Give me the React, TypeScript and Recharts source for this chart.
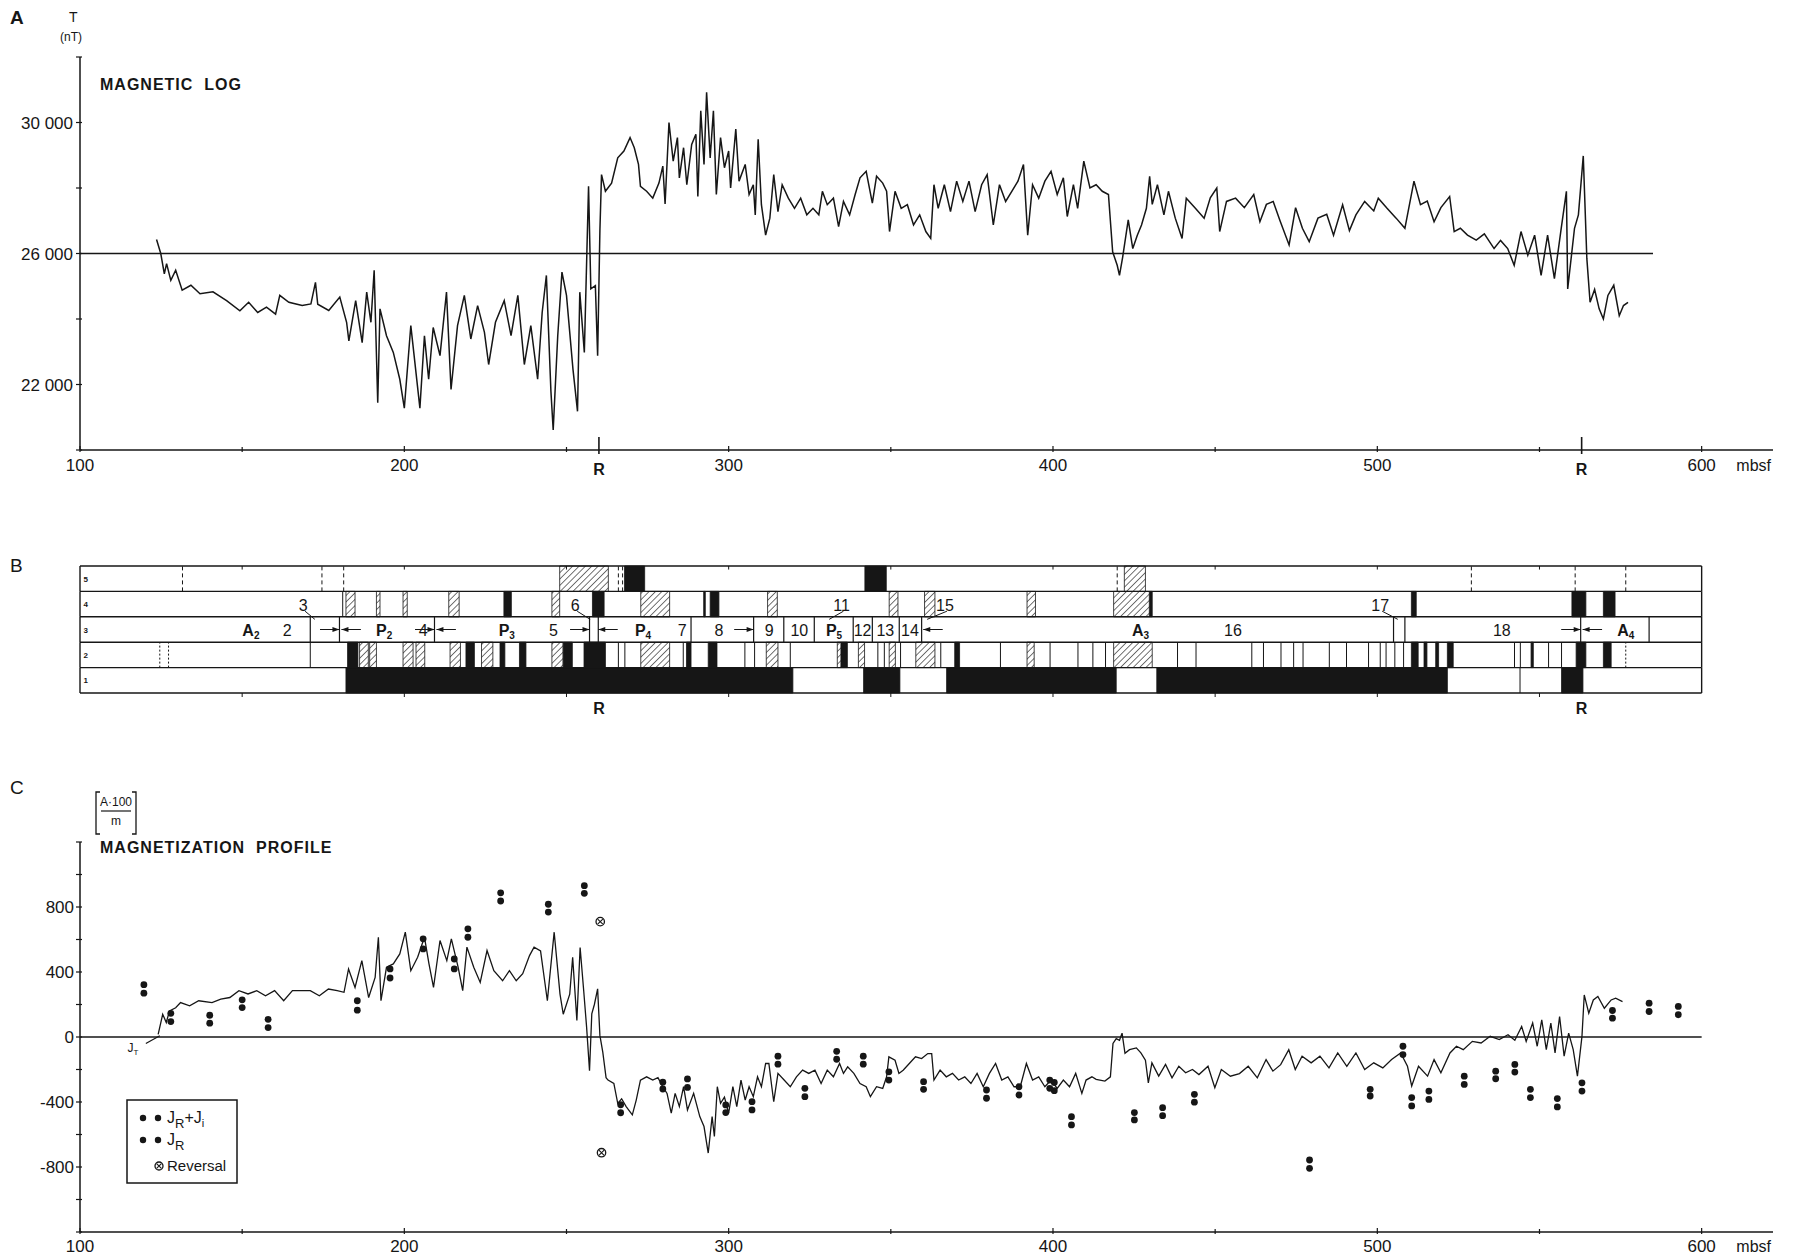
import React from 'react'
import {
  ComposedChart,
  Line,
  Scatter,
  XAxis,
  YAxis,
  ReferenceLine,
  ReferenceArea,
} from 'recharts'

const INK = '#161616'
const FONT = "'Liberation Sans', Arial, sans-serif"
const CHART_W = 1797
const DEPTH_DOMAIN: [number, number] = [100, 622]
const HATCH = 'url(#bhatch)'
const PLOT_MARGIN = { left: 20, right: 24 }

// ---------- A: magnetic log (depth mbsf, total field nT) ----------
const magLog: [number, number][] = [
  [123.6, 26430], [124.9, 26000], [126, 25380], [126.7, 25690], [128, 25180], [129.5, 25490],
  [131.5, 24880], [134.2, 25030], [137, 24770], [141, 24830], [145.2, 24560], [149.3, 24250],
  [152, 24510], [154.8, 24200], [157.5, 24360], [160.3, 24150], [161.6, 24720], [164.4, 24510],
  [168.5, 24410], [171.2, 24460], [172.6, 25120], [173.3, 24450], [176.7, 24260], [180.1, 24670],
  [182.2, 23900], [182.9, 23330], [185, 24560], [187, 23280], [188.4, 24820], [189.7, 23900],
  [190.7, 25490], [191.8, 21440], [192.5, 24310], [194.5, 23490], [196.6, 22980], [198.6, 22160],
  [200, 21280], [202, 23800], [204.8, 21280], [206.2, 23490], [207.5, 22160], [208.9, 23740],
  [211, 22880], [213, 24820], [214.4, 21850], [216.4, 23800], [218.5, 24720], [220.5, 23390],
  [222.6, 24410], [224.7, 23590], [226, 22610], [228.1, 23900], [230.8, 24560], [232.9, 23490],
  [235, 24720], [237, 22610], [239, 23800], [241.1, 22160], [242.5, 24200], [243.8, 25330],
  [245.2, 21790], [245.9, 20610], [247.3, 23490], [248.6, 25430], [250, 24720], [252, 22460],
  [253.4, 21180], [254.1, 24820], [255.5, 22980], [256.8, 28050], [257.5, 24920], [258.9, 25020],
  [259.6, 22880], [260.3, 26700], [260.8, 28410], [262, 27900], [263.9, 28150], [265.8, 28920],
  [267.7, 29130], [269.6, 29540], [270.9, 29230], [272.2, 28720], [272.8, 28050], [274.7, 27900],
  [276.6, 27690], [278.5, 28150], [279.7, 28670], [280.4, 27510], [281.6, 30000], [282.9, 28820],
  [284.2, 29540], [284.8, 28310], [286.1, 29230], [287.1, 28100], [288.6, 29330], [289.9, 29640],
  [290.5, 27740], [291.4, 30360], [292.4, 28720], [293.2, 30920], [294.3, 28920], [295.3, 30360],
  [296.2, 27800], [297.5, 29540], [298.7, 28620], [300, 29130], [300.6, 28000], [302.2, 29800],
  [303.2, 28210], [305.1, 28720], [306.3, 27800], [307.6, 28100], [308.2, 27180], [309.1, 29490],
  [310.1, 27490], [311.4, 26560], [312.7, 27080], [313.9, 28410], [315.2, 27280], [316.5, 28100],
  [318.4, 27690], [320.3, 27380], [322.2, 27690], [324.1, 27180], [326, 27380], [327.8, 27180],
  [328.9, 27900], [330.4, 27490], [332.3, 27690], [333.9, 26820], [335.4, 27590], [337.3, 27180],
  [339, 27800], [340.5, 28310], [342.4, 28510], [344.3, 27540], [345.6, 28360], [347.5, 28150],
  [348.7, 27900], [349.6, 26670], [351.3, 27900], [353.2, 27380], [355.1, 27490], [357, 26870],
  [358.9, 27180], [360.8, 26670], [362.3, 26460], [363.3, 28100], [364.6, 27380], [366.5, 28100],
  [368.4, 27280], [370.3, 28210], [372.2, 27590], [374.1, 28210], [376, 27280], [378, 28100],
  [379.7, 28410], [381.6, 26870], [383.5, 28100], [385.4, 27590], [387.3, 27900], [389.2, 28210],
  [390.9, 28720], [392.2, 26560], [393.7, 28100], [395.6, 27690], [397.5, 28210], [399.4, 28510],
  [401.3, 27800], [403.2, 28310], [404.4, 27130], [406.3, 28100], [407.6, 27380], [409.5, 28820],
  [411.4, 28000], [413.3, 28100], [415.2, 27900], [417.1, 27800], [418.4, 26050], [419.8, 25640],
  [420.5, 25330], [421.5, 25900], [423.2, 27030], [424.6, 26150], [426, 26560], [427.3, 26870],
  [428.8, 27380], [429.8, 28360], [430.6, 27500], [432.2, 28100], [434.2, 27180], [435.6, 27900],
  [437.7, 27080], [439.8, 26460], [441.1, 27690], [443.9, 27380], [446.6, 27080], [448.5, 27700],
  [450.5, 28000], [451.4, 26670], [453.5, 27590], [456.3, 27690], [459, 27400], [461.9, 27800],
  [463.8, 26970], [465.8, 27500], [467.9, 27590], [470, 27000], [472.8, 26260], [474.8, 27400],
  [476.9, 26770], [479, 26360], [481.7, 27080], [484.4, 27200], [486.5, 26560], [489.3, 27490],
  [491.4, 26700], [493.4, 27180], [496.1, 27590], [498.9, 27300], [500.3, 27690], [503, 27380],
  [505.8, 27080], [508.5, 26770], [511.3, 28210], [513.3, 27490], [515.4, 27600], [517.5, 26970],
  [519.6, 27400], [522.3, 27740], [523.7, 26670], [525.6, 26770], [527.8, 26560], [530.5, 26410],
  [533, 26600], [536, 26150], [538, 26400], [540.2, 26150], [542.2, 25640], [544.3, 26670],
  [546.4, 25950], [548.5, 26560], [550.5, 25330], [552.5, 26560], [554.6, 25230], [556.7, 26770],
  [558.3, 27900], [558.7, 24920], [560.8, 26770], [562, 27180], [563.5, 28980], [564.6, 25850],
  [565.6, 24510], [567, 24900], [568.4, 24310], [569.7, 24000], [571.1, 24720], [572.9, 25030],
  [574.6, 24100], [575.9, 24410], [577.3, 24510],
]
const fieldTicks = [20000, 22000, 24000, 26000, 28000, 30000, 32000]
const fieldLabels = [22000, 26000, 30000]
const fieldBaseline = 26000
const depthLabels = [100, 200, 300, 400, 500, 600]
const depthMinor = [150, 250, 350, 450, 550]
const reversalDepths = [260, 563]

// ---------- B: lithology / zonation columns ----------
const row1Black: [number, number][] = [[182, 319.8], [341.6, 352.8], [367.2, 419.5], [432, 521.6], [556.8, 563.4]]
const row1Lines = [544]
const row2Black: [number, number][] = [
  [182.5, 185.7], [219, 221.6], [229.5, 231], [235.5, 237.5], [249, 251.8], [255.4, 262], [287, 288.4],
  [293.7, 296.4], [334.6, 336.6], [369.7, 371.2], [510.5, 512.6], [514.4, 515.3], [518, 518.9],
  [521.6, 523.4], [547.4, 548.1], [561.3, 564.3], [569.7, 572.1],
]
const row2Hatch: [number, number][] = [
  [186.2, 188.9], [189.3, 191.4], [199.6, 202.7], [203.6, 206.3], [214.1, 217.3], [223.8, 227.3],
  [245.5, 248.9], [272.9, 281.8], [311.6, 315.2], [333.5, 334.6], [340, 341.9], [349.5, 351.4],
  [357.7, 363.6], [392, 394.2], [418.7, 430.6],
]
const row2Lines = [
  171, 266, 268, 286, 305, 308, 319, 346, 348, 353, 365.4, 383.8, 399.1, 407.7, 412.3, 416.2, 438.4,
  444.1, 461.3, 464.9, 470.3, 474.2, 477.1, 485.2, 490.5, 497.3, 500.9, 502.7, 505.4, 508.1, 542.3,
  544.1, 552.8, 556.8,
]
const row2Dotted = [124.6, 127.3, 576.6]
const row3Lines = [171, 180, 209.3, 257.1, 259.8, 288.4, 307.7, 317, 326.4, 338.4, 344.3, 352.6, 359.5, 505, 508.5, 562.7, 583.8]
const zoneLabels: [string, string, number][] = [
  ['A', '2', 152.7], ['2', '', 163.9], ['P', '2', 193.8], ['4', '', 205.8], ['P', '3', 231.6], ['5', '', 246],
  ['P', '4', 273.6], ['7', '', 285.7], ['8', '', 297], ['9', '', 312.5], ['10', '', 321.8], ['P', '5', 332.5],
  ['12', '', 341.3], ['13', '', 348.3], ['14', '', 355.9], ['A', '3', 427], ['16', '', 455.5],
  ['18', '', 538.4], ['A', '4', 576.6],
]
const arrowsRight = [180, 209.3, 257.1, 307.7, 562.7]
const arrowsLeft = [180.6, 209.9, 259.8, 360, 563.3]
const callouts: [string, number, number][] = [
  ['3', 168.8, 172.4], ['6', 252.7, 257.3], ['11', 334.8, 331], ['15', 366.7, 361.2], ['17', 500.9, 506.3],
]
const row4Black: [number, number][] = [
  [230.7, 233], [258, 261.6], [292.3, 292.8], [294.3, 297], [429.7, 430.6], [510.5, 512], [560, 564.3], [569.7, 573.3],
]
const row4Hatch: [number, number][] = [
  [182, 184.8], [191.4, 192.5], [199.6, 200.9], [213.7, 216.9], [245.5, 247.9], [272.9, 281.8], [312, 315],
  [349.5, 352.2], [360.4, 363.6], [392, 394.6], [418.7, 429.7],
]
const row4Lines = [181]
const row5Black: [number, number][] = [[267.9, 274.1], [342, 348.6]]
const row5Hatch: [number, number][] = [[247.9, 262.9], [422, 428.5]]
const row5Dashed = [131.6, 174.6, 181.3, 266, 267.3, 419.8, 529, 561, 576.6]
const columnRows = [1, 2, 3, 4, 5]
const columnTicks = [150, 200, 250, 300, 350, 400, 450, 500, 550]

// ---------- C: magnetization profile (A·100/m) ----------
const profile: [number, number][] = [
  [124.1, 16], [125.5, 140], [126.6, 89], [127.6, 161], [129.5, 180], [131, 212], [133.8, 192],
  [136.6, 223], [140.7, 212], [143.4, 233], [146.2, 243], [149, 285], [151.8, 265], [154.5, 285],
  [157.2, 254], [160, 285], [162.8, 223], [165.5, 285], [171, 285], [173.8, 254], [176.6, 295],
  [179.3, 285], [181.4, 275], [182.8, 419], [184.8, 305], [186.9, 470], [189, 243], [191, 367],
  [192, 614], [192.8, 223], [194.5, 429], [196.6, 450], [198.6, 511], [200.3, 645], [202, 408],
  [204.1, 491], [206.2, 614], [207.6, 450], [209, 305], [211, 594], [213.1, 470], [214.5, 604],
  [216.6, 429], [218, 285], [219.3, 553], [221.4, 429], [223.4, 336], [225.5, 532], [227.6, 408],
  [230.3, 346], [232.4, 408], [234.5, 346], [236.5, 390], [238.6, 501], [240, 553], [242, 530],
  [244.1, 223], [246.2, 645], [248, 264], [249, 140], [251, 264], [251.9, 490], [253.2, 102],
  [254.2, 551], [255.3, 286], [256.2, 61], [257.1, -207], [257.8, 143], [258.6, 200], [259.6, 296],
  [260.3, 10], [261.2, -95], [262.2, -250], [262.8, -265], [264.6, -286], [265.8, -408], [267, -380],
  [268.4, -428], [270.3, -479], [271.5, -388], [272.8, -265], [274.7, -245], [276.6, -265],
  [278.2, -250], [279.7, -306], [281, -347], [282.3, -469], [283.5, -347], [284.8, -428], [286.1, -306],
  [287.3, -449], [289.2, -347], [291.1, -490], [292.4, -551], [293.7, -714], [294.9, -490],
  [295.6, -612], [296.5, -306], [297.5, -408], [298.7, -370], [300, -469], [301.3, -306], [302.5, -428],
  [303.8, -265], [305.1, -388], [306.3, -306], [307.6, -367], [308.9, -245], [310.1, -306],
  [311.4, -163], [312.4, -163], [313.3, -306], [313.9, -398], [315.2, -224], [317.1, -265], [319, -306],
  [320.9, -245], [322.8, -204], [324.7, -224], [326.6, -204], [328.5, -286], [330.4, -204], [332.3, -245],
  [334.2, -163], [335.4, -224], [336.7, -184], [338.6, -224], [340.5, -286], [342.4, -306], [343.7, -367],
  [345.6, -306], [347.5, -316], [348.7, -245], [349.4, -122], [351.3, -143], [352.5, -224], [353.8, -204],
  [355.7, -163], [357.6, -122], [359.5, -133], [361.4, -102], [362.6, -102], [363.3, -265], [365.2, -204],
  [367.1, -245], [369, -224], [370.9, -265], [372.8, -245], [374.7, -286], [376.6, -224], [378.5, -306],
  [380.4, -224], [382.3, -163], [384.2, -265], [386.1, -245], [388, -306], [389.9, -306], [391.8, -163],
  [393.7, -265], [395.6, -245], [397.5, -306], [399.4, -265], [401.3, -316], [403.2, -265], [405.1, -306],
  [407, -224], [408.9, -347], [410.2, -265], [412, -245], [413.3, -261], [416, -271], [417.7, -245],
  [418.5, -40], [419.5, -10], [420.5, -20], [421.3, 24], [422.2, -100], [423.6, -78], [425.7, -67],
  [427.1, -98], [428.5, -143], [429.4, -282], [430.5, -159], [432.6, -241], [434.7, -169], [436.7, -251],
  [438.8, -180], [440.9, -220], [443, -200], [445, -231], [447.8, -180], [449.9, -312], [451.9, -200],
  [454.7, -241], [457.5, -225], [460.2, -180], [463, -251], [465.7, -139], [467.8, -210], [470.2, -170],
  [472.7, -78], [474.7, -200], [476.8, -118], [479.6, -159], [482.3, -118], [485.1, -190], [487.8, -98],
  [490.6, -180], [493.4, -98], [496.1, -200], [498.9, -159], [501.7, -190], [504.4, -139], [507.2, -98],
  [509.3, -180], [510.6, -302], [512.7, -180], [515.5, -241], [517.5, -139], [519.6, -220], [522.4, -98],
  [524.4, -57], [526.5, -78], [529.3, -27], [532, -37], [534.8, 4], [537.6, -16], [540.3, 14], [542.4, -20],
  [544.5, 65], [545.9, -27], [547.9, 86], [549.3, -57], [550.7, 106], [552.1, -78], [553.5, 86],
  [554.8, -98], [556.2, 126], [557.6, -118], [559, 24], [560.4, -78], [561.7, -241], [563.1, 4],
  [563.8, 259], [565.2, 147], [566.6, 228], [568, 249], [570, 177], [572.1, 228], [573.5, 239], [575.6, 218],
]
// sample pairs: depth, J_R + J_i, J_R
const samples: [number, number, number][] = [
  [119.7, 322, 270], [128, 146, 95], [140, 134, 85], [150, 229, 181], [158, 109, 58], [185.5, 223, 165],
  [195.6, 419, 363], [205.8, 604, 542], [215.4, 480, 419], [219.6, 666, 614], [229.7, 887, 837],
  [244.4, 817, 769], [255.5, 931, 884], [266.7, -417, -466], [279.7, -278, -320], [287.3, -258, -310],
  [299.1, -418, -465], [307.2, -398, -449], [315.2, -118, -167], [323.5, -316, -367], [333.3, -88, -137],
  [341.5, -118, -167], [349.4, -214, -265], [360.1, -275, -322], [379.5, -326, -377], [389.5, -306, -357],
  [399, -265, -316], [400.4, -280, -330], [405.7, -490, -541], [425.1, -465, -510], [433.8, -435, -484],
  [443.6, -353, -401], [479.1, -757, -808], [497.8, -322, -363], [507.9, -57, -108], [510.6, -373, -424],
  [515.9, -333, -384], [526.8, -241, -292], [536.5, -210, -257], [542.4, -169, -216], [547.2, -322, -373],
  [555.5, -379, -430], [563.1, -282, -333], [572.5, 163, 116], [583.8, 208, 157], [592.8, 188, 137],
]
const reversals: [number, number][] = [[260.4, 710], [260.8, -712]]
const magTicks = [-1200, -1000, -800, -600, -400, -200, 0, 200, 400, 600, 800, 1000, 1200]
const magLabels = [-800, -400, 0, 400, 800]

const logRows = magLog.map(([depth, val]) => ({ depth, val }))
const profRows = profile.map(([depth, val]) => ({ depth, val }))
const upperRows = samples.map(([depth, a]) => ({ depth, val: a }))
const lowerRows = samples.map(([depth, , b]) => ({ depth, val: b }))
const revRows = reversals.map(([depth, val]) => ({ depth, val }))

const fmtField = (v: number) => `${Math.floor(v / 1000)} ${String(v % 1000).padStart(3, '0')}`

function depthTick(p: any, gap: number, labels: boolean) {
  const v = p.payload.value
  if (reversalDepths.includes(v)) {
    return (
      <g>
        <line x1={p.x} x2={p.x} y1={p.y - 13} y2={p.y + 4} stroke={INK} strokeWidth={1.6} />
        <text x={p.x} y={p.y + gap + 4} textAnchor="middle" fontFamily={FONT} fontWeight="bold" fontSize={16} fill={INK}>R</text>
      </g>
    )
  }
  const major = v % 100 === 0
  return (
    <g>
      <line x1={p.x} x2={p.x} y1={p.y - (major ? 4 : 3)} y2={p.y + 2} stroke={INK} strokeWidth={1.2} />
      {labels && major && (
        <text x={p.x} y={p.y + gap} textAnchor="middle" fontFamily={FONT} fontSize={17} fill={INK}>{v}</text>
      )}
      {labels && v === 600 && (
        <text x={p.x + 52} y={p.y + gap} textAnchor="middle" fontFamily={FONT} fontSize={16} fill={INK}>mbsf</text>
      )}
    </g>
  )
}

function fieldTick(p: any) {
  const v = p.payload.value
  return (
    <g>
      <line x1={p.x - 4} x2={p.x + 2} y1={p.y} y2={p.y} stroke={INK} strokeWidth={1.2} />
      {fieldLabels.includes(v) && (
        <text x={p.x - 7} y={p.y + 6} textAnchor="end" fontFamily={FONT} fontSize={17} fill={INK}>{fmtField(v)}</text>
      )}
    </g>
  )
}

function magTick(p: any) {
  const v = p.payload.value
  return (
    <g>
      <line x1={p.x - 4} x2={p.x + 2} y1={p.y} y2={p.y} stroke={INK} strokeWidth={1.2} />
      {magLabels.includes(v) && (
        <text x={p.x - 6} y={p.y + 6} textAnchor="end" fontFamily={FONT} fontSize={17} fill={INK}>{v}</text>
      )}
    </g>
  )
}

const dot = (p: any) => <circle cx={p.cx} cy={p.cy} r={3.4} fill={INK} />
const reversalDot = (p: any) => (
  <g>
    <circle cx={p.cx} cy={p.cy} r={4.2} fill="#fff" stroke={INK} strokeWidth={1.3} />
    <path d={`M${p.cx - 2.6} ${p.cy - 2.6}L${p.cx + 2.6} ${p.cy + 2.6}M${p.cx + 2.6} ${p.cy - 2.6}L${p.cx - 2.6} ${p.cy + 2.6}`} stroke={INK} strokeWidth={1.1} />
  </g>
)

function MagneticLog() {
  return (
    <div style={{ position: 'absolute', left: 0, top: 0 }}>
      <ComposedChart width={CHART_W} height={480} data={logRows} margin={{ top: 57, bottom: 0, ...PLOT_MARGIN }}>
        <XAxis
          type="number" dataKey="depth" domain={DEPTH_DOMAIN} allowDataOverflow
          ticks={[...depthLabels, ...depthMinor, ...reversalDepths].sort((a, b) => a - b)} interval={0}
          tickSize={0} tickMargin={0} height={30} stroke={INK} strokeWidth={1.5}
          tick={(p: any) => depthTick(p, 21, true)}
        />
        <YAxis
          type="number" dataKey="val" domain={[20000, 32000]} allowDataOverflow ticks={fieldTicks} interval={0}
          tickSize={0} tickMargin={0} width={60} stroke={INK} strokeWidth={1.5} tick={fieldTick}
        />
        <ReferenceLine
          segment={[{ x: 100, y: fieldBaseline }, { x: 585, y: fieldBaseline }]}
          stroke={INK} strokeWidth={1.4} ifOverflow="visible"
        />
        <Line dataKey="val" stroke={INK} strokeWidth={1.5} dot={false} isAnimationActive={false} />
      </ComposedChart>
    </div>
  )
}

function vline(x: number, row: number, key: string, dash?: string, w = 1) {
  return (
    <ReferenceLine
      key={key} segment={[{ x, y: row - 1 }, { x, y: row }]} stroke={INK} strokeWidth={w}
      strokeDasharray={dash} ifOverflow="visible"
    />
  )
}

function areas(list: [number, number][], row: number, fill: string, key: string) {
  return list.map(([a, b], i) => (
    <ReferenceArea
      key={`${key}${i}`} x1={a} x2={b} y1={row - 1} y2={row} fill={fill} fillOpacity={1}
      stroke={INK} strokeWidth={0.8} ifOverflow="visible"
    />
  ))
}

function Columns() {
  const labelRows = zoneLabels.map(([main, sub, depth]) => ({ depth, row: 2.5, main, sub }))
  const calloutRows = callouts.map(([main, depth]) => ({ depth, row: 3.48, main, sub: '' }))
  const rowNumRows = columnRows.map((r) => ({ depth: 101.8, row: r - 0.5, main: String(r), sub: '' }))
  const arrowRows = [
    ...arrowsRight.map((depth) => ({ depth, row: 2.5, dir: 1 })),
    ...arrowsLeft.map((depth) => ({ depth, row: 2.5, dir: -1 })),
  ]
  const zoneText = (p: any) => {
    const d = p.payload
    const bold = d.sub !== ''
    return (
      <text x={p.cx} y={p.cy + 6} textAnchor="middle" fontFamily={FONT} fontSize={16} fontWeight={bold ? 'bold' : 'normal'} fill={INK}>
        {d.main}
        {bold && <tspan fontSize={10} dy={3}>{d.sub}</tspan>}
      </text>
    )
  }
  const rowNum = (p: any) => (
    <text x={p.cx} y={p.cy + 3} textAnchor="middle" fontFamily={FONT} fontSize={8} fontWeight="bold" fill={INK}>{p.payload.main}</text>
  )
  const arrowHead = (p: any) => {
    const d = p.payload.dir
    return <polygon points={`${p.cx},${p.cy} ${p.cx - 7 * d},${p.cy - 2.5} ${p.cx - 7 * d},${p.cy + 2.5}`} fill={INK} />
  }
  return (
    <div style={{ position: 'absolute', left: 0, top: 540 }}>
      <ComposedChart width={CHART_W} height={183} margin={{ top: 26, right: PLOT_MARGIN.right, bottom: 0, left: 80 }}>
        <XAxis
          type="number" dataKey="depth" domain={DEPTH_DOMAIN} allowDataOverflow
          ticks={[...columnTicks, ...reversalDepths].sort((a, b) => a - b)} interval={0}
          tickSize={0} tickMargin={0} height={30} axisLine={false}
          tick={(p: any) => reversalDepths.includes(p.payload.value)
            ? <text x={p.x} y={p.y + 21} textAnchor="middle" fontFamily={FONT} fontWeight="bold" fontSize={16} fill={INK}>R</text>
            : <line x1={p.x} x2={p.x} y1={p.y} y2={p.y + 4} stroke={INK} strokeWidth={1} />}
        />
        <YAxis type="number" dataKey="row" domain={[0, 5]} hide />
        {areas(row1Black, 1, INK, 'r1b')}
        {row1Lines.map((x, i) => vline(x, 1, `r1l${i}`))}
        {areas(row2Black, 2, INK, 'r2b')}
        {areas(row2Hatch, 2, HATCH, 'r2h')}
        {row2Lines.map((x, i) => vline(x, 2, `r2l${i}`))}
        {row2Dotted.map((x, i) => vline(x, 2, `r2d${i}`, '2 2'))}
        {row3Lines.map((x, i) => vline(x, 3, `r3l${i}`, undefined, 1.2))}
        {areas(row4Black, 4, INK, 'r4b')}
        {areas(row4Hatch, 4, HATCH, 'r4h')}
        {row4Lines.map((x, i) => vline(x, 4, `r4l${i}`))}
        {areas(row5Black, 5, INK, 'r5b')}
        {areas(row5Hatch, 5, HATCH, 'r5h')}
        {row5Dashed.map((x, i) => vline(x, 5, `r5d${i}`, '4 3'))}
        {[0, 1, 2, 3, 4, 5].map((r) => (
          <ReferenceLine key={`h${r}`} segment={[{ x: 100, y: r }, { x: 600, y: r }]} stroke={INK} strokeWidth={1.4} ifOverflow="visible" />
        ))}
        {columnRows.map((r) => vline(100, r, `bl${r}`, undefined, 1.4))}
        {columnRows.map((r) => vline(600, r, `br${r}`, undefined, 1.4))}
        {columnTicks.map((x, i) => (
          <ReferenceLine key={`tt${i}`} segment={[{ x, y: 5 }, { x, y: 4.86 }]} stroke={INK} strokeWidth={1} ifOverflow="visible" />
        ))}
        {arrowsRight.map((x, i) => (
          <ReferenceLine key={`ar${i}`} segment={[{ x: x - 6, y: 2.5 }, { x, y: 2.5 }]} stroke={INK} strokeWidth={1} ifOverflow="visible" />
        ))}
        {arrowsLeft.map((x, i) => (
          <ReferenceLine key={`al${i}`} segment={[{ x, y: 2.5 }, { x: x + 6, y: 2.5 }]} stroke={INK} strokeWidth={1} ifOverflow="visible" />
        ))}
        {callouts.map(([, x, t], i) => (
          <ReferenceLine key={`co${i}`} segment={[{ x: x + 0.6, y: 3.22 }, { x: t, y: 2.9 }]} stroke={INK} strokeWidth={1} ifOverflow="visible" />
        ))}
        <Scatter data={arrowRows} dataKey="row" shape={arrowHead} isAnimationActive={false} />
        <Scatter data={labelRows} dataKey="row" shape={zoneText} isAnimationActive={false} />
        <Scatter data={calloutRows} dataKey="row" shape={zoneText} isAnimationActive={false} />
        <Scatter data={rowNumRows} dataKey="row" shape={rowNum} isAnimationActive={false} />
      </ComposedChart>
    </div>
  )
}

function MagnetizationProfile() {
  const jtLabel = [{ depth: 116.3, val: -62 }]
  return (
    <div style={{ position: 'absolute', left: 0, top: 800 }}>
      <ComposedChart width={CHART_W} height={458} data={profRows} margin={{ top: 42, bottom: 0, ...PLOT_MARGIN }}>
        <XAxis
          type="number" dataKey="depth" domain={DEPTH_DOMAIN} allowDataOverflow
          ticks={[...depthLabels, ...depthMinor].sort((a, b) => a - b)} interval={0}
          tickSize={0} tickMargin={0} height={26} stroke={INK} strokeWidth={1.5}
          tick={(p: any) => depthTick(p, 20, true)}
        />
        <YAxis
          type="number" dataKey="val" domain={[-1200, 1200]} allowDataOverflow ticks={magTicks} interval={0}
          tickSize={0} tickMargin={0} width={60} stroke={INK} strokeWidth={1.5} tick={magTick}
        />
        <ReferenceLine segment={[{ x: 100, y: 0 }, { x: 600, y: 0 }]} stroke={INK} strokeWidth={1.4} ifOverflow="visible" />
        <ReferenceLine segment={[{ x: 120.3, y: -40 }, { x: 124.6, y: 8 }]} stroke={INK} strokeWidth={1.2} ifOverflow="visible" />
        <Line dataKey="val" stroke={INK} strokeWidth={1.3} dot={false} isAnimationActive={false} />
        <Scatter data={upperRows} dataKey="val" shape={dot} isAnimationActive={false} />
        <Scatter data={lowerRows} dataKey="val" shape={dot} isAnimationActive={false} />
        <Scatter data={revRows} dataKey="val" shape={reversalDot} isAnimationActive={false} />
        <Scatter
          data={jtLabel} dataKey="val" isAnimationActive={false}
          shape={(p: any) => (
            <text x={p.cx} y={p.cy + 5} textAnchor="middle" fontFamily={FONT} fontSize={12} fill={INK}>
              J<tspan fontSize={8} dy={3}>T</tspan>
            </text>
          )}
        />
      </ComposedChart>
    </div>
  )
}

const abs = (left: number, top: number, extra: React.CSSProperties = {}): React.CSSProperties => ({
  position: 'absolute', left, top, lineHeight: 1, whiteSpace: 'nowrap', ...extra,
})

export default function App() {
  return (
    <div style={{ position: 'absolute', left: 0, top: 0, width: 1797, height: 1258, background: '#fff', fontFamily: FONT, color: INK, overflow: 'hidden' }}>
      <svg width={0} height={0} style={{ position: 'absolute' }}>
        <defs>
          <pattern id="bhatch" width={4.5} height={4.5} patternUnits="userSpaceOnUse" patternTransform="rotate(45)">
            <rect width={4.5} height={4.5} fill="#fff" />
            <line x1={0} y1={0} x2={0} y2={4.5} stroke={INK} strokeWidth={1.2} />
          </pattern>
        </defs>
      </svg>
      <MagneticLog />
      <Columns />
      <MagnetizationProfile />

      <div style={abs(10, 8, { fontSize: 19, fontWeight: 'bold' })}>A</div>
      <div style={abs(69, 10, { fontSize: 14 })}>T</div>
      <div style={abs(60, 31, { fontSize: 12 })}>(nT)</div>
      <div style={abs(100, 77, { fontSize: 16, fontWeight: 'bold', letterSpacing: 1 })}>MAGNETIC&nbsp; LOG</div>

      <div style={abs(10, 556, { fontSize: 19 })}>B</div>

      <div style={abs(10, 778, { fontSize: 19 })}>C</div>
      <svg width={44} height={46} style={abs(94, 790)}>
        <path d="M6 2H2V44H6M38 2H42V44H38" fill="none" stroke={INK} strokeWidth={1.3} />
        <text x={22} y={16} textAnchor="middle" fontFamily={FONT} fontSize={12} fill={INK}>A·100</text>
        <line x1={7} x2={37} y1={21} y2={21} stroke={INK} strokeWidth={1.2} />
        <text x={22} y={35} textAnchor="middle" fontFamily={FONT} fontSize={12} fill={INK}>m</text>
      </svg>
      <div style={abs(100, 840, { fontSize: 16, fontWeight: 'bold', letterSpacing: 1 })}>MAGNETIZATION&nbsp; PROFILE</div>

      <svg width={112} height={85} style={abs(126, 1099)}>
        <rect x={1} y={1} width={110} height={83} fill="#fff" stroke={INK} strokeWidth={1.5} />
        <circle cx={17} cy={19} r={3.2} fill={INK} />
        <circle cx={32} cy={19} r={3.2} fill={INK} />
        <text x={41} y={24} fontFamily={FONT} fontSize={16} fill={INK}>
          J<tspan fontSize={13} dy={5}>R</tspan><tspan dy={-5}>+J</tspan><tspan fontSize={11} dy={4}>i</tspan>
        </text>
        <circle cx={17} cy={41} r={3.2} fill={INK} />
        <circle cx={32} cy={41} r={3.2} fill={INK} />
        <text x={41} y={46} fontFamily={FONT} fontSize={16} fill={INK}>
          J<tspan fontSize={13} dy={5}>R</tspan>
        </text>
        <circle cx={33} cy={67} r={4} fill="#fff" stroke={INK} strokeWidth={1.3} />
        <path d="M30.6 64.6L35.4 69.4M35.4 64.6L30.6 69.4" stroke={INK} strokeWidth={1.1} />
        <text x={41} y={72} fontFamily={FONT} fontSize={15} fill={INK}>Reversal</text>
      </svg>
    </div>
  )
}
